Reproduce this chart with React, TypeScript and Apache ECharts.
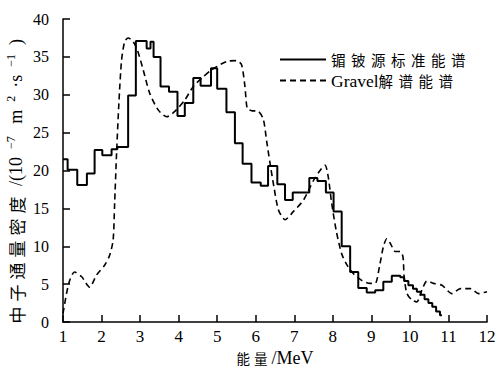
import React, { useEffect, useRef } from "react";
import * as echarts from "echarts";

const solidEdges = [1.0, 1.12, 1.37, 1.62, 1.82, 2.02, 2.26, 2.41, 2.69, 2.89, 3.17, 3.27, 3.35, 3.53, 3.75, 3.97, 4.16, 4.38, 4.57, 4.84, 5.0, 5.24, 5.46, 5.66, 5.89, 6.13, 6.32, 6.56, 6.76, 6.96, 7.39, 7.6, 7.82, 8.02, 8.23, 8.45, 8.66, 8.88, 9.1, 9.31, 9.53, 9.75, 9.85, 9.96, 10.08, 10.18, 10.28, 10.38, 10.48, 10.58, 10.68, 10.78, 10.83];
const solidValues = [21.5, 20.1, 18.1, 19.6, 22.7, 22.0, 22.8, 23.1, 29.9, 37.1, 36.1, 37.0, 35.0, 31.1, 30.4, 27.2, 28.9, 32.2, 31.2, 33.5, 30.8, 27.7, 23.6, 20.9, 18.4, 18.0, 20.6, 18.2, 16.1, 17.1, 19.0, 18.6, 17.1, 14.6, 10.0, 6.6, 4.5, 3.9, 4.2, 5.3, 6.1, 5.9, 5.4, 4.85, 4.4, 4.0, 3.6, 3.0, 2.5, 2.0, 1.4, 0.9];

const gravelEnergy = [1.0, 1.15, 1.3, 1.48, 1.69, 1.87, 2.08, 2.21, 2.3, 2.34, 2.39, 2.45, 2.52, 2.6, 2.69, 2.82, 2.93, 3.08, 3.25, 3.47, 3.69, 3.9, 4.16, 4.38, 4.6, 4.86, 5.25, 5.5, 5.63, 5.72, 5.78, 5.89, 6.07, 6.2, 6.28, 6.37, 6.47, 6.59, 6.76, 6.98, 7.24, 7.5, 7.71, 7.8, 7.88, 7.97, 8.09, 8.23, 8.37, 8.53, 8.75, 8.97, 9.1, 9.21, 9.31, 9.4, 9.49, 9.62, 9.75, 9.82, 9.85, 9.92, 10.05, 10.18, 10.31, 10.44, 10.61, 10.83, 11.09, 11.31, 11.57, 11.78, 12.0];
const gravelValues = [1.1, 5.1, 6.6, 6.0, 4.6, 6.2, 7.5, 8.8, 10.8, 15.7, 22.3, 28.9, 34.6, 37.0, 37.5, 37.0, 35.9, 33.3, 30.2, 28.0, 27.1, 27.8, 29.3, 31.1, 32.2, 33.3, 34.4, 34.5, 34.0, 31.1, 28.2, 27.9, 27.8, 26.7, 24.0, 21.0, 17.9, 14.8, 13.5, 14.6, 16.1, 18.7, 20.3, 20.7, 19.2, 15.7, 12.0, 9.0, 7.5, 6.4, 5.5, 5.1, 5.1, 7.3, 9.9, 11.0, 10.4, 9.3, 9.3, 8.6, 6.0, 3.8, 2.9, 2.65, 4.2, 5.4, 5.1, 4.85, 3.75, 4.4, 4.4, 3.75, 4.0];

const seriesNames = ["镅铍源标准能谱", "Gravel解谱能谱"];
const xTicks = { min: 1, max: 12, interval: 1 };
const yTicks = { min: 0, max: 40, interval: 5 };

const SERIF = "'Liberation Serif', 'DejaVu Serif', serif";
const CJK = "'Noto Sans CJK SC', 'Liberation Serif', sans-serif";

// letter spacing (px) applied to the CJK text runs after render
const spacingMap: Record<string, number> = {
  "镅铍源标准能谱": 5.5,
  "解谱能谱": 5.5,
  "能量": 4,
  "中子通量密度": 5,
};

export default function App() {
  const ref = useRef<HTMLDivElement>(null);
  useEffect(() => {
    if (!ref.current) return;
    const el = ref.current;
    const chart = echarts.init(el, null, { renderer: "svg" });
    const solidData: number[][] = solidValues.map((v, i) => [solidEdges[i], v]);
    solidData.push([solidEdges[solidEdges.length - 1], solidValues[solidValues.length - 1]]);
    const gravelData = gravelEnergy.map((e, i) => [e, gravelValues[i]]);

    const applySpacing = () => {
      el.querySelectorAll("text").forEach((t) => {
        const s = (t.textContent || "").trim();
        if (spacingMap[s] != null) {
          (t as unknown as SVGTextElement).style.letterSpacing = spacingMap[s] + "px";
        }
      });
    };

    chart.setOption({
      animation: false,
      backgroundColor: "#fff",
      textStyle: { fontFamily: SERIF, color: "#000" },
      grid: { left: 63, right: 12, top: 19, bottom: 46, containLabel: false, outerBoundsMode: "none" },
      legend: {
        orient: "vertical",
        left: 274,
        top: 44,
        itemWidth: 46,
        itemHeight: 1,
        itemGap: 0,
        itemStyle: { opacity: 0 },
        data: seriesNames,
        formatter: (name: string) =>
          name === seriesNames[0] ? "{c7|" + name + "}" : "{lat|Gravel}{c4|解谱能谱}",
        textStyle: {
          fontFamily: SERIF,
          fontSize: 17,
          color: "#000",
          lineHeight: 21,
          rich: {
            c7: { fontFamily: CJK, fontSize: 14.5, color: "#000", width: 140, lineHeight: 21 },
            c4: { fontFamily: CJK, fontSize: 14.5, color: "#000", width: 82, lineHeight: 21 },
            lat: { fontFamily: SERIF, fontSize: 17.5, color: "#000", lineHeight: 21 },
          },
        },
      },
      xAxis: {
        type: "value",
        min: xTicks.min,
        max: xTicks.max,
        interval: xTicks.interval,
        name: "{cjk|能量}{lat|/MeV}",
        nameLocation: "middle",
        nameGap: 26,
        nameMoveOverlap: false,
        nameTextStyle: {
          fontFamily: SERIF,
          fontSize: 18,
          color: "#000",
          lineHeight: 20,
          rich: {
            cjk: { fontFamily: CJK, fontSize: 13.5, color: "#000", width: 35, lineHeight: 20 },
            lat: { fontFamily: SERIF, fontSize: 18, color: "#000", lineHeight: 20 },
          },
        },
        axisLine: { lineStyle: { color: "#000", width: 1.5 } },
        axisTick: { inside: true, length: 7, lineStyle: { color: "#000", width: 1.5 } },
        axisLabel: { fontFamily: SERIF, fontSize: 17, color: "#000", margin: 6 },
        splitLine: { show: false },
      },
      yAxis: {
        type: "value",
        min: yTicks.min,
        max: yTicks.max,
        interval: yTicks.interval,
        name: "{cjk|中子通量密度}{n|/(10}{sup|−7}{n| m}{sup|2}{n|·s}{sup|−1}{end|)}",
        nameLocation: "middle",
        nameRotate: 90,
        nameGap: 36,
        nameMoveOverlap: false,
        nameTextStyle: {
          fontFamily: SERIF,
          fontSize: 18,
          color: "#000",
          rich: {
            cjk: { fontFamily: CJK, fontSize: 17, color: "#000", width: 133, lineHeight: 22 },
            n: { fontFamily: SERIF, fontSize: 18, color: "#000", lineHeight: 22, padding: [0, 5, 0, 5] },
            sup: { fontFamily: SERIF, fontSize: 12, color: "#000", lineHeight: 12, verticalAlign: "top", padding: [0, 3, 0, 3] },
            end: { fontFamily: SERIF, fontSize: 18, color: "#000", lineHeight: 22, padding: [0, 22, 0, 6] },
          },
        },
        axisLine: { show: true, lineStyle: { color: "#000", width: 1.5 } },
        axisTick: { show: true, inside: true, length: 7, lineStyle: { color: "#000", width: 1.5 } },
        axisLabel: { fontFamily: SERIF, fontSize: 16, color: "#000", margin: 14 },
        splitLine: { show: false },
      },
      series: [
        {
          name: seriesNames[0],
          type: "line",
          step: "end",
          data: solidData,
          symbol: "none",
          showSymbol: false,
          lineStyle: { color: "#000", width: 2, type: "solid" },
          itemStyle: { color: "#000" },
        },
        {
          name: seriesNames[1],
          type: "line",
          smooth: 0.25,
          data: gravelData,
          symbol: "none",
          showSymbol: false,
          lineStyle: { color: "#000", width: 1.6, type: [6, 4] },
          itemStyle: { color: "#000" },
        },
      ],
    });
    applySpacing();
    chart.on("finished", applySpacing);
    const timer = setTimeout(applySpacing, 50);
    return () => {
      clearTimeout(timer);
      chart.dispose();
    };
  }, []);
  return (
    <div
      ref={ref}
      style={{ position: "absolute", left: 0, top: 0, width: 499, height: 368 }}
    />
  );
}
